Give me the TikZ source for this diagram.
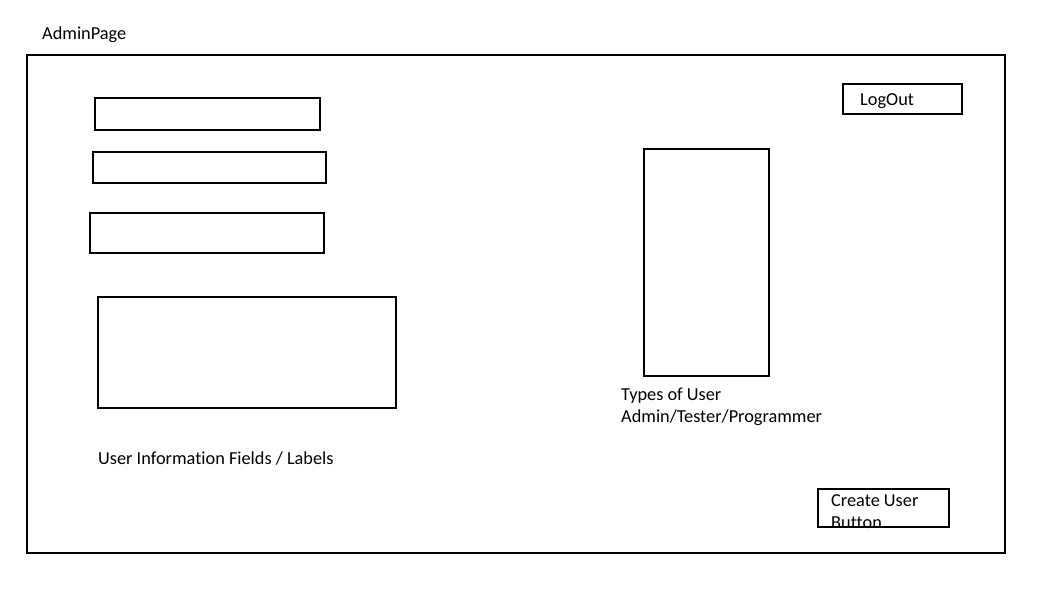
\documentclass[tikz,border=0pt]{standalone}
\usepackage{fontspec}
\setmainfont[Ligatures=NoCommon]{Carlito}
\begin{document}
\begin{tikzpicture}[x=1pt,y=-1pt,
  box/.style={draw=black,line width=2.2pt},
  lbl/.style={anchor=west,inner sep=0pt,font=\fontsize{18.3}{22}\selectfont,text=black}]
\useasboundingbox (0,0) rectangle (1053,604);
\node[lbl] (title) at (42,35) {AdminPage};
\draw[box] (27,55) rectangle (1005,553);
\draw[box] (95,98) rectangle (320,130);
\draw[box] (93,152) rectangle (326,183);
\draw[box] (90,213) rectangle (324,253);
\draw[box] (98,297) rectangle (396,408);
\node[lbl] (uinfo) at (98,459) {User Information Fields / Labels};
\draw[box] (644,149) rectangle (769,376);
\node[lbl] (types1) at (621,396) {Types of User};
\node[lbl] (types2) at (621,418) {Admin/Tester/Programmer};
\draw[box] (843,84) rectangle (962,114);
\node[lbl] (logout) at (860,101) {LogOut};
\node[lbl] (create1) at (831,501) {Create User};
\node[lbl] (create2) at (831,523) {Button};
\draw[box] (818,489) rectangle (949,527);
\end{tikzpicture}
\end{document}
